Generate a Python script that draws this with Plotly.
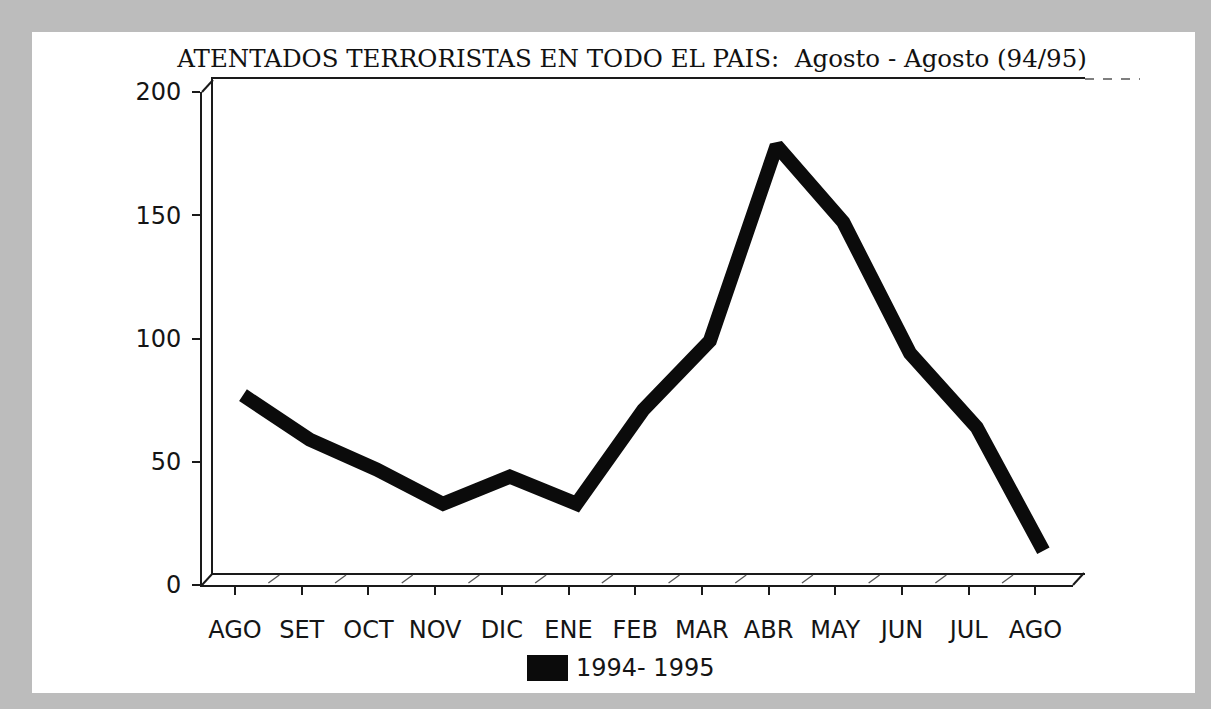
import plotly.graph_objects as go

# ---------------- data ----------------
months = ["AGO", "SET", "OCT", "NOV", "DIC", "ENE", "FEB", "MAR", "ABR", "MAY", "JUN", "JUL", "AGO"]
atentados = [72, 54, 42, 28, 39, 28, 66, 94, 173, 142, 89, 59, 9]
series_name = "1994- 1995"
y_ticks = [0, 50, 100, 150, 200]
title_main = "ATENTADOS TERRORISTAS EN TODO EL PAIS:"
title_sub = "Agosto - Agosto (94/95)"

# ---------------- layout helpers ----------------
W, H = 1211, 709
def px(p):
    return p / W
def py(p):
    return 1 - p / H

x_idx = list(range(len(months)))

BACK_L, BACK_R, BACK_T, BACK_B = 213, 1085, 79, 573
FRONT_L, FRONT_R, FRONT_T, FRONT_B = 202, 1073, 92, 585
BACK_X0, FRONT_X0, STEP = 243, 235, 66.7
DX, DY = BACK_L - FRONT_L, FRONT_B - BACK_B

fig = go.Figure()

fig.add_trace(go.Scatter(
    x=x_idx, y=atentados, name=series_name, mode="lines",
    line=dict(color="#0b0b0b", width=14),
    xaxis="x", yaxis="y", showlegend=False, hoverinfo="y"))

fig.add_trace(go.Scatter(
    x=x_idx, y=atentados, mode="lines", line=dict(color="rgba(0,0,0,0)"),
    xaxis="x2", yaxis="y2", showlegend=False, hoverinfo="skip"))

tick_font = dict(family="DejaVu Sans, Liberation Sans, Arial, sans-serif", size=24, color="#151515")

shapes = []
shapes.append(dict(type="rect", xref="paper", yref="paper",
                   x0=px(32), x1=px(1195), y0=py(693), y1=py(32),
                   fillcolor="white", line=dict(width=0), layer="below"))

line_style = dict(color="#1a1a1a", width=2)
for (fx, fy) in [(FRONT_L, FRONT_T), (FRONT_L, FRONT_B), (FRONT_R, FRONT_B)]:
    shapes.append(dict(type="line", xref="paper", yref="paper",
                       x0=px(fx), y0=py(fy), x1=px(fx + DX), y1=py(fy - DY),
                       line=line_style))
for i in range(len(months) - 1):
    fx = FRONT_X0 + STEP * (i + 0.5)
    shapes.append(dict(type="line", xref="paper", yref="paper",
                       x0=px(fx), y0=py(FRONT_B - 2), x1=px(fx + DX), y1=py(BACK_B + 2),
                       line=dict(color="#555555", width=1.3)))
shapes.append(dict(type="line", xref="paper", yref="paper",
                   x0=px(BACK_R), y0=py(BACK_T), x1=px(1140), y1=py(BACK_T),
                   line=dict(color="#555555", width=1.5, dash="dash")))

shapes.append(dict(type="rect", xref="paper", yref="paper",
                   x0=px(527), x1=px(568), y0=py(681), y1=py(655),
                   fillcolor="#0b0b0b", line=dict(width=0)))

annotations = [
    dict(text=series_name, xref="paper", yref="paper", x=px(574), y=py(668),
         xanchor="left", yanchor="middle", showarrow=False,
         font=tick_font),
]

fig.update_layout(
    template="none",
    width=W, height=H, autosize=False,
    margin=dict(l=0, r=0, t=0, b=0, pad=0, autoexpand=False),
    paper_bgcolor="#bcbcbc", plot_bgcolor="rgba(0,0,0,0)",
    title=dict(text=title_main + "  " + title_sub,
               x=px(632), y=py(58), xref="paper", yref="paper",
               xanchor="center", yanchor="middle", automargin=False,
               font=dict(family="DejaVu Serif, Liberation Serif, serif", size=24.5, color="#111")),
    xaxis=dict(domain=[px(BACK_L), px(BACK_R)],
               range=[(BACK_L - BACK_X0) / STEP, (BACK_R - BACK_X0) / STEP],
               showgrid=False, zeroline=False, showticklabels=False, ticks="",
               showline=True, linecolor="#1a1a1a", linewidth=2, mirror=True,
               anchor="y", fixedrange=True, automargin=False),
    yaxis=dict(domain=[py(BACK_B), py(BACK_T)], range=[0, 200],
               showgrid=False, zeroline=False, showticklabels=False, ticks="",
               showline=True, linecolor="#1a1a1a", linewidth=2,
               anchor="x", fixedrange=True, automargin=False),
    xaxis2=dict(domain=[px(FRONT_L), px(FRONT_R)],
                range=[(FRONT_L - FRONT_X0) / STEP, (FRONT_R - FRONT_X0) / STEP],
                tickmode="array", tickvals=x_idx, ticktext=months,
                ticks="outside", ticklen=8, tickwidth=2, tickcolor="#1a1a1a",
                ticklabelstandoff=14,
                showgrid=False, zeroline=False,
                showline=True, linecolor="#1a1a1a", linewidth=2,
                tickfont=tick_font, anchor="y2", fixedrange=True, automargin=False),
    yaxis2=dict(domain=[py(FRONT_B), py(FRONT_T)], range=[0, 200],
                tickmode="array", tickvals=y_ticks,
                ticks="outside", ticklen=8, tickwidth=2, tickcolor="#1a1a1a",
                ticklabelstandoff=6,
                showgrid=False, zeroline=False,
                showline=True, linecolor="#1a1a1a", linewidth=2,
                tickfont=tick_font, anchor="x2", fixedrange=True, automargin=False),
    shapes=shapes,
    annotations=annotations,
    showlegend=False,
)

fig.write_html("out.html",
               config={"displayModeBar": False},
               post_script="document.body.style.margin='0';document.body.style.overflow='hidden';")
